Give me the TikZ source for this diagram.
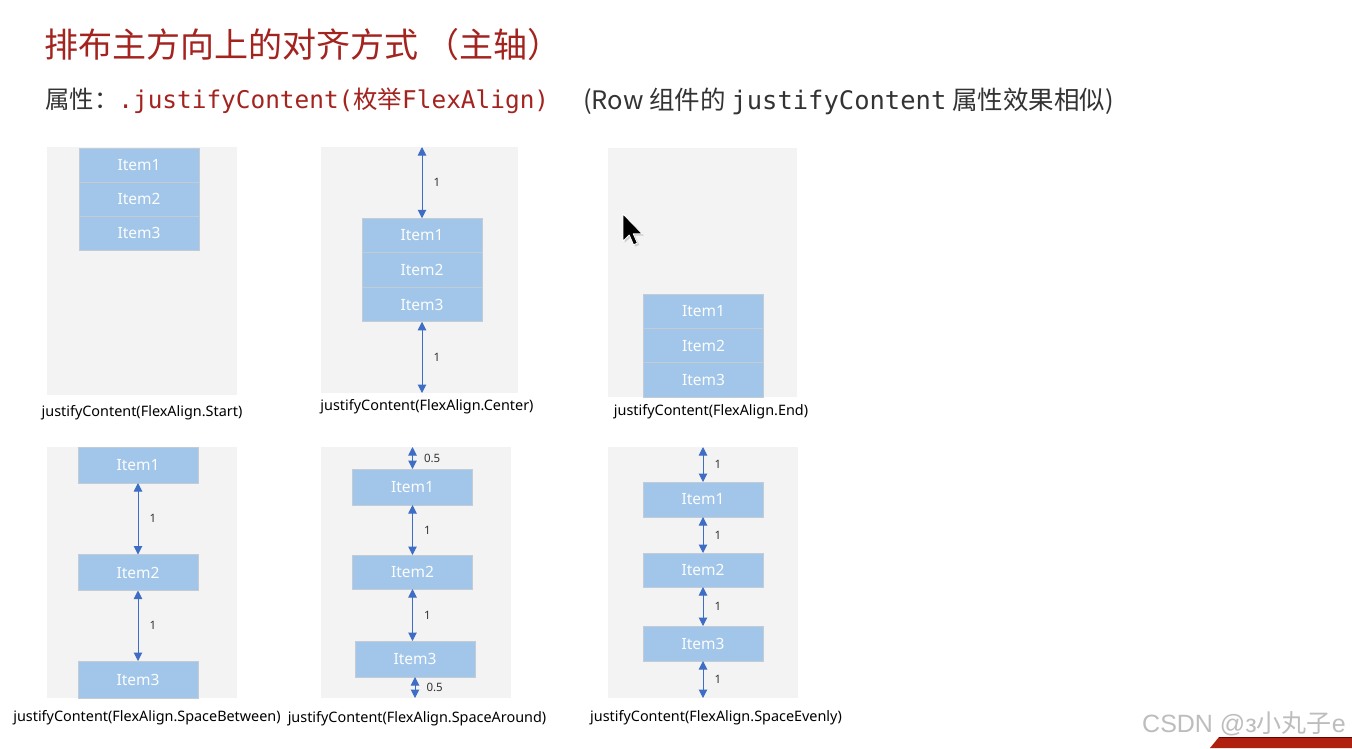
\documentclass[tikz,border=0pt]{standalone}
\usepackage{fontspec}
\setmainfont{Noto Sans}
\newfontfamily\cjk{Noto Sans CJK SC}
\newfontfamily\mono{DejaVu Sans Mono}
\newfontfamily\arialfont{Liberation Sans}
\usetikzlibrary{arrows.meta,positioning}
\definecolor{titlered}{HTML}{A3231F}
\definecolor{panelgray}{HTML}{F3F3F3}
\definecolor{itemblue}{HTML}{A2C6E9}
\definecolor{itemline}{HTML}{C3CCD5}
\definecolor{dimblue}{HTML}{3D6DC4}
\definecolor{textgray}{HTML}{333333}
\definecolor{markgray}{HTML}{BDBDBD}
\definecolor{cornerred}{HTML}{B0200F}
\tikzset{
  panel/.style={fill=panelgray, inner sep=0pt, outer sep=0pt, minimum width=190pt},
  itembox/.style={fill=itemblue, draw=itemline, line width=0.8pt, text=white!96!itemblue,
    inner sep=0pt, outer sep=0pt, minimum width=120pt, font=\fontsize{15.5}{18}\selectfont},
  dimarr/.style={{Triangle[width=8.5pt,length=8.5pt]}-{Triangle[width=8.5pt,length=8.5pt]},
    line width=1pt, draw=dimblue},
  dimlbl/.style={font=\fontsize{11.5}{13}\selectfont, text=black!80, inner sep=1pt},
  capt/.style={font=\fontsize{14.4}{17}\selectfont, text=black, inner sep=0pt}
}
\begin{document}
\begin{tikzpicture}[x=1pt,y=-1pt]
  \useasboundingbox (0,0) rectangle (1352,748);
  \fill[white] (0,0) rectangle (1352,748);

  % heading
  \node[anchor=west, inner sep=0pt, text=titlered, font=\cjk\fontsize{34}{38}\selectfont] (title) at (44,45) {排布主方向上的对齐方式 （主轴）};
  \node[anchor=west, inner sep=0pt, font=\fontsize{24.4}{28}\selectfont] (attr) at (45,101)
    {\cjk\color{textgray}属性：\mono\color{titlered}.justifyContent(\cjk 枚举\mono FlexAlign)};
  \node[anchor=west, inner sep=0pt, text=textgray, font=\cjk\fontsize{25.5}{29}\selectfont] (note) at (583,101)
    {(Row 组件的 {\mono justifyContent} 属性效果相似)};

  % Start
  \node[panel, minimum height=248pt] (pStart) at (142,271) {};
  \node[itembox, minimum height=34pt] (s1) at (139,165) {Item1};
  \node[itembox, minimum height=34pt, below=0pt of s1] (s2) {Item2};
  \node[itembox, minimum height=34pt, below=0pt of s2] (s3) {Item3};
  \node[capt] (tStart) at (142,413) {justifyContent(FlexAlign.Start)};

  % Center
  \node[panel, minimum width=197pt, minimum height=246pt] (pCenter) at (419.5,270) {};
  \node[itembox, minimum height=34.5pt] (c1) at (422,235.5) {Item1};
  \node[itembox, minimum height=34.5pt, below=0pt of c1] (c2) {Item2};
  \node[itembox, minimum height=34.5pt, below=0pt of c2] (c3) {Item3};
  \draw[dimarr] (c1.north |- pCenter.north) -- (c1.north) node[dimlbl, midway, right=10pt] (lc1) {1};
  \draw[dimarr] (c3.south) -- (c3.south |- pCenter.south) node[dimlbl, midway, right=10pt] (lc2) {1};
  \node[capt] (tCenter) at (427,407) {justifyContent(FlexAlign.Center)};

  % End
  \node[panel, minimum width=189pt, minimum height=249pt] (pEnd) at (702.5,272.5) {};
  \node[itembox, minimum height=34.3pt] (e1) at (703.5,311.2) {Item1};
  \node[itembox, minimum height=34.3pt, below=0pt of e1] (e2) {Item2};
  \node[itembox, minimum height=34.3pt, below=0pt of e2] (e3) {Item3};
  \node[capt] (tEnd) at (711,412) {justifyContent(FlexAlign.End)};

  % SpaceBetween
  \node[panel, minimum height=251pt] (pBetween) at (142,572.5) {};
  \node[itembox, minimum height=36pt] (b1) at (138,465) {Item1};
  \node[itembox, minimum height=36pt] (b2) at (138,572.5) {Item2};
  \node[itembox, minimum height=37pt] (b3) at (138,679.5) {Item3};
  \draw[dimarr] (b1.south) -- (b2.north) node[dimlbl, midway, right=10pt] (lb1) {1};
  \draw[dimarr] (b2.south) -- (b3.north) node[dimlbl, midway, right=10pt] (lb2) {1};
  \node[capt] (tBetween) at (147,718) {justifyContent(FlexAlign.SpaceBetween)};

  % SpaceAround
  \node[panel, minimum height=251pt] (pAround) at (416,572.5) {};
  \node[itembox, minimum height=36pt] (a1) at (412.5,487) {Item1};
  \node[itembox, minimum height=34pt] (a2) at (412.5,572) {Item2};
  \node[itembox, minimum height=36pt] (a3) at (415,659) {Item3};
  \draw[dimarr] (a1.north |- pAround.north) -- (a1.north) node[dimlbl, midway, right=10pt] (la1) {0.5};
  \draw[dimarr] (a1.south) -- (a2.north) node[dimlbl, midway, right=10pt] (la2) {1};
  \draw[dimarr] (a2.south) -- (a2.south |- a3.north) node[dimlbl, midway, right=10pt] (la3) {1};
  \draw[dimarr] (a3.south) -- (a3.south |- pAround.south) node[dimlbl, midway, right=10pt] (la4) {0.5};
  \node[capt] (tAround) at (417,719) {justifyContent(FlexAlign.SpaceAround)};

  % SpaceEvenly
  \node[panel, minimum height=251pt] (pEvenly) at (703,572.5) {};
  \node[itembox, minimum height=35pt] (v1) at (703,499.5) {Item1};
  \node[itembox, minimum height=34pt] (v2) at (703,570) {Item2};
  \node[itembox, minimum height=35pt] (v3) at (703,643.5) {Item3};
  \draw[dimarr] (v1.north |- pEvenly.north) -- (v1.north) node[dimlbl, midway, right=10pt] (lv1) {1};
  \draw[dimarr] (v1.south) -- (v2.north) node[dimlbl, midway, right=10pt] (lv2) {1};
  \draw[dimarr] (v2.south) -- (v3.north) node[dimlbl, midway, right=10pt] (lv3) {1};
  \draw[dimarr] (v3.south) -- (v3.south |- pEvenly.south) node[dimlbl, midway, right=10pt] (lv4) {1};
  \node[capt] (tEvenly) at (716,718) {justifyContent(FlexAlign.SpaceEvenly)};

  % pointer
  \begin{scope}[shift={(623,214)}, x=1.5pt, y=-1.5pt]
    \fill[black, opacity=0.15] (1.2,1.2) -- (1.2,19.2) -- (5.4,15.2) -- (8.2,21.7) -- (10.8,20.6) -- (8,14.4) -- (14,14.4) -- cycle;
    \draw[white, fill=black, line width=0.8pt, line join=round] (0,0) -- (0,18) -- (4.2,14) -- (7,20.5) -- (9.6,19.4) -- (6.8,13.2) -- (12.8,13.2) -- cycle;
  \end{scope}

  % watermark and corner
  \node[anchor=west, inner sep=0pt, text=markgray, font=\arialfont\fontsize{25}{29}\selectfont] (mark) at (1142,724) {CSDN @з{\cjk 小丸子}e};
  \fill[cornerred] (1210,748) -- (1219,737) -- (1352,737) -- (1352,748) -- cycle;
  \draw[black!60!red, line width=1pt] (1219,737) -- (1352,737);
\end{tikzpicture}
\end{document}
